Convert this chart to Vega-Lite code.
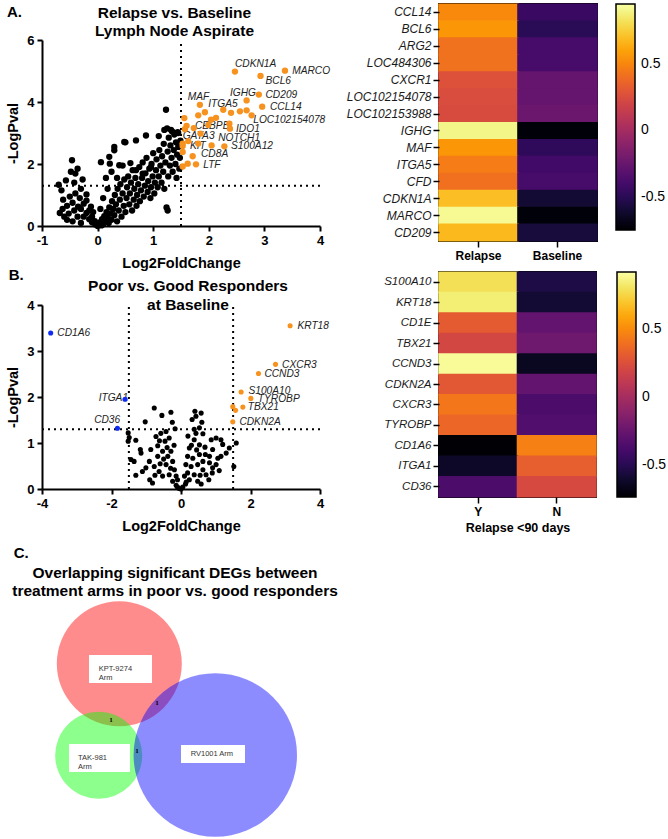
{
  "$schema": "https://vega.github.io/schema/vega-lite/v6.json",
  "background": "white",
  "padding": {"left": 5, "top": 2, "right": 0, "bottom": 0},
  "config": {
    "font": "Liberation Sans",
    "view": {"stroke": null},
    "axis": {"grid": false, "domainColor": "black", "tickColor": "black", "labelColor": "black", "titleColor": "black"},
    "title": {"color": "black", "font": "Liberation Sans"},
    "legend": {"labelColor": "black"}
  },
  "datasets": {
    "volcA": [
      {"lfc":-0.70,"logp":1.33,"g":"ns"},{"lfc":-0.65,"logp":1.15,"g":"ns"},{"lfc":-0.62,"logp":0.85,"g":"ns"},{"lfc":-0.63,"logp":0.55,"g":"ns"},{"lfc":-0.68,"logp":0.42,"g":"ns"},{"lfc":-0.57,"logp":1.47,"g":"ns"},{"lfc":-0.55,"logp":0.65,"g":"ns"},{"lfc":-0.50,"logp":0.95,"g":"ns"},{"lfc":-0.46,"logp":2.12,"g":"ns"},{"lfc":-0.48,"logp":1.75,"g":"ns"},{"lfc":-0.40,"logp":1.69,"g":"ns"},{"lfc":-0.36,"logp":1.85,"g":"ns"},{"lfc":-0.42,"logp":1.40,"g":"ns"},{"lfc":-0.30,"logp":1.20,"g":"ns"},{"lfc":-0.27,"logp":1.50,"g":"ns"},{"lfc":-0.20,"logp":1.02,"g":"ns"},{"lfc":-0.32,"logp":0.90,"g":"ns"},{"lfc":-0.45,"logp":0.75,"g":"ns"},{"lfc":-0.52,"logp":0.40,"g":"ns"},{"lfc":-0.42,"logp":0.50,"g":"ns"},{"lfc":-0.36,"logp":0.30,"g":"ns"},{"lfc":-0.30,"logp":0.55,"g":"ns"},{"lfc":-0.25,"logp":0.72,"g":"ns"},{"lfc":-0.20,"logp":0.42,"g":"ns"},{"lfc":-0.15,"logp":0.50,"g":"ns"},{"lfc":-0.10,"logp":0.30,"g":"ns"},{"lfc":-0.15,"logp":0.22,"g":"ns"},{"lfc":-0.10,"logp":0.12,"g":"ns"},{"lfc":-0.05,"logp":0.16,"g":"ns"},{"lfc":-0.04,"logp":0.05,"g":"ns"},{"lfc":-0.60,"logp":0.30,"g":"ns"},{"lfc":-0.55,"logp":0.20,"g":"ns"},{"lfc":-0.40,"logp":1.05,"g":"ns"},{"lfc":-0.35,"logp":0.62,"g":"ns"},{"lfc":-0.20,"logp":0.82,"g":"ns"},{"lfc":-0.12,"logp":0.62,"g":"ns"},{"lfc":-0.08,"logp":0.45,"g":"ns"},{"lfc":-0.25,"logp":0.30,"g":"ns"},{"lfc":-0.45,"logp":0.15,"g":"ns"},{"lfc":-0.30,"logp":0.10,"g":"ns"},
      {"lfc":0.00,"logp":0.00,"g":"ns"},{"lfc":0.02,"logp":0.06,"g":"ns"},{"lfc":0.05,"logp":0.12,"g":"ns"},{"lfc":0.07,"logp":0.02,"g":"ns"},{"lfc":0.08,"logp":0.22,"g":"ns"},{"lfc":0.10,"logp":0.06,"g":"ns"},{"lfc":0.12,"logp":0.32,"g":"ns"},{"lfc":0.14,"logp":0.15,"g":"ns"},{"lfc":0.16,"logp":0.45,"g":"ns"},{"lfc":0.18,"logp":0.28,"g":"ns"},{"lfc":0.20,"logp":0.10,"g":"ns"},{"lfc":0.21,"logp":0.60,"g":"ns"},{"lfc":0.23,"logp":0.40,"g":"ns"},{"lfc":0.25,"logp":0.20,"g":"ns"},{"lfc":0.26,"logp":0.80,"g":"ns"},{"lfc":0.28,"logp":0.55,"g":"ns"},{"lfc":0.30,"logp":0.35,"g":"ns"},{"lfc":0.31,"logp":1.00,"g":"ns"},{"lfc":0.33,"logp":0.70,"g":"ns"},{"lfc":0.35,"logp":0.15,"g":"ns"},{"lfc":0.36,"logp":1.20,"g":"ns"},{"lfc":0.38,"logp":0.50,"g":"ns"},{"lfc":0.40,"logp":0.85,"g":"ns"},{"lfc":0.41,"logp":1.35,"g":"ns"},{"lfc":0.43,"logp":0.30,"g":"ns"},{"lfc":0.45,"logp":1.05,"g":"ns"},{"lfc":0.47,"logp":0.65,"g":"ns"},{"lfc":0.48,"logp":1.50,"g":"ns"},{"lfc":0.50,"logp":0.45,"g":"ns"},{"lfc":0.52,"logp":0.90,"g":"ns"},{"lfc":0.53,"logp":1.25,"g":"ns"},{"lfc":0.55,"logp":1.60,"g":"ns"},{"lfc":0.57,"logp":0.70,"g":"ns"},{"lfc":0.58,"logp":1.05,"g":"ns"},{"lfc":0.60,"logp":1.40,"g":"ns"},{"lfc":0.62,"logp":0.50,"g":"ns"},{"lfc":0.63,"logp":1.80,"g":"ns"},{"lfc":0.65,"logp":0.85,"g":"ns"},{"lfc":0.66,"logp":1.20,"g":"ns"},{"lfc":0.68,"logp":1.55,"g":"ns"},{"lfc":0.70,"logp":0.65,"g":"ns"},{"lfc":0.71,"logp":1.00,"g":"ns"},{"lfc":0.73,"logp":1.35,"g":"ns"},{"lfc":0.75,"logp":1.90,"g":"ns"},{"lfc":0.76,"logp":0.80,"g":"ns"},{"lfc":0.78,"logp":1.15,"g":"ns"},{"lfc":0.80,"logp":1.55,"g":"ns"},{"lfc":0.81,"logp":2.05,"g":"ns"},{"lfc":0.83,"logp":0.95,"g":"ns"},{"lfc":0.85,"logp":1.30,"g":"ns"},{"lfc":0.86,"logp":1.70,"g":"ns"},{"lfc":0.88,"logp":2.20,"g":"ns"},{"lfc":0.90,"logp":1.10,"g":"ns"},{"lfc":0.91,"logp":1.45,"g":"ns"},{"lfc":0.93,"logp":1.85,"g":"ns"},{"lfc":0.95,"logp":0.90,"g":"ns"},{"lfc":0.96,"logp":1.25,"g":"ns"},{"lfc":0.97,"logp":2.00,"g":"ns"},{"lfc":0.99,"logp":1.60,"g":"ns"},{"lfc":1.00,"logp":2.35,"g":"ns"},{"lfc":1.02,"logp":1.05,"g":"ns"},{"lfc":1.03,"logp":1.40,"g":"ns"},{"lfc":1.05,"logp":1.80,"g":"ns"},{"lfc":1.06,"logp":2.15,"g":"ns"},{"lfc":1.08,"logp":1.25,"g":"ns"},{"lfc":1.10,"logp":1.60,"g":"ns"},{"lfc":1.11,"logp":2.45,"g":"ns"},{"lfc":1.13,"logp":1.95,"g":"ns"},{"lfc":1.15,"logp":1.40,"g":"ns"},{"lfc":1.16,"logp":2.25,"g":"ns"},{"lfc":1.18,"logp":1.75,"g":"ns"},{"lfc":1.19,"logp":2.65,"g":"ns"},{"lfc":1.20,"logp":1.20,"g":"ns"},{"lfc":1.22,"logp":2.05,"g":"ns"},{"lfc":1.23,"logp":3.75,"g":"ns"},{"lfc":1.24,"logp":0.60,"g":"ns"},{"lfc":1.26,"logp":0.50,"g":"ns"},{"lfc":1.25,"logp":3.15,"g":"ns"},{"lfc":1.26,"logp":2.40,"g":"ns"},{"lfc":1.27,"logp":1.60,"g":"ns"},{"lfc":1.28,"logp":2.85,"g":"ns"},{"lfc":1.30,"logp":1.95,"g":"ns"},{"lfc":1.31,"logp":2.60,"g":"ns"},{"lfc":1.33,"logp":2.20,"g":"ns"},{"lfc":1.34,"logp":3.05,"g":"ns"},{"lfc":1.35,"logp":1.75,"g":"ns"},{"lfc":1.37,"logp":2.45,"g":"ns"},{"lfc":1.38,"logp":2.95,"g":"ns"},{"lfc":1.40,"logp":2.00,"g":"ns"},{"lfc":1.41,"logp":2.70,"g":"ns"},{"lfc":1.42,"logp":1.55,"g":"ns"},{"lfc":1.43,"logp":2.30,"g":"ns"},{"lfc":1.45,"logp":2.55,"g":"ns"},{"lfc":1.45,"logp":3.00,"g":"ns"},{"lfc":1.47,"logp":1.85,"g":"ns"},{"lfc":1.48,"logp":2.20,"g":"ns"},{"lfc":1.49,"logp":2.75,"g":"ns"},
      {"lfc":0.30,"logp":2.55,"g":"ns"},{"lfc":0.69,"logp":2.76,"g":"ns"},{"lfc":0.48,"logp":2.71,"g":"ns"},{"lfc":0.21,"logp":2.23,"g":"ns"},{"lfc":0.30,"logp":2.44,"g":"ns"},{"lfc":0.06,"logp":2.06,"g":"ns"},{"lfc":0.22,"logp":2.01,"g":"ns"},{"lfc":0.39,"logp":1.96,"g":"ns"},{"lfc":0.59,"logp":2.03,"g":"ns"},{"lfc":0.81,"logp":1.69,"g":"ns"},{"lfc":0.96,"logp":1.90,"g":"ns"},{"lfc":0.69,"logp":1.80,"g":"ns"},{"lfc":0.87,"logp":2.92,"g":"ns"},{"lfc":0.50,"logp":2.70,"g":"ns"},{"lfc":0.45,"logp":1.95,"g":"ns"},{"lfc":0.15,"logp":1.55,"g":"ns"},{"lfc":0.25,"logp":1.75,"g":"ns"},{"lfc":0.35,"logp":1.55,"g":"ns"},{"lfc":0.10,"logp":0.90,"g":"ns"},{"lfc":0.18,"logp":1.20,"g":"ns"},{"lfc":0.05,"logp":0.55,"g":"ns"},{"lfc":1.10,"logp":2.90,"g":"ns"},{"lfc":1.20,"logp":3.10,"g":"ns"},{"lfc":1.32,"logp":3.10,"g":"ns"},{"lfc":1.44,"logp":3.03,"g":"ns"},
      {"gene":"CDKN1A","lfc":2.47,"logp":4.98,"g":"up"},{"gene":"MARCO","lfc":3.37,"logp":5.01,"g":"up"},{"gene":"BCL6","lfc":2.93,"logp":4.84,"g":"up"},{"gene":"CD209","lfc":2.90,"logp":4.24,"g":"up"},{"gene":"IGHG","lfc":2.68,"logp":4.05,"g":"up"},{"gene":"CCL14","lfc":2.96,"logp":3.85,"g":"up"},{"gene":"LOC102154078","lfc":2.77,"logp":3.57,"g":"up"},{"lfc":2.68,"logp":3.73,"g":"up"},{"lfc":2.56,"logp":3.70,"g":"up"},{"lfc":2.40,"logp":3.65,"g":"up"},{"lfc":2.26,"logp":3.75,"g":"up"},{"gene":"MAF","lfc":1.84,"logp":3.91,"g":"up"},{"gene":"ITGA5","lfc":1.93,"logp":3.67,"g":"up"},{"lfc":1.81,"logp":3.57,"g":"up"},{"lfc":2.13,"logp":3.49,"g":"up"},{"lfc":2.04,"logp":3.43,"g":"up"},{"lfc":1.56,"logp":3.48,"g":"up"},{"lfc":1.60,"logp":3.23,"g":"up"},{"lfc":1.57,"logp":3.12,"g":"up"},{"gene":"CEBPB","lfc":1.73,"logp":3.16,"g":"up"},{"lfc":1.99,"logp":3.26,"g":"up"},{"lfc":2.37,"logp":3.30,"g":"up"},{"gene":"IDO1","lfc":2.38,"logp":3.14,"g":"up"},{"gene":"GATA3","lfc":1.85,"logp":2.98,"g":"up"},{"gene":"KIT","lfc":1.53,"logp":2.66,"g":"up"},{"lfc":1.53,"logp":2.58,"g":"up"},{"gene":"NOTCH1","lfc":2.05,"logp":2.60,"g":"up"},{"gene":"S100A12","lfc":2.28,"logp":2.57,"g":"up"},{"lfc":1.81,"logp":2.66,"g":"up"},{"lfc":1.53,"logp":2.39,"g":"up"},{"gene":"CD8A","lfc":1.71,"logp":2.25,"g":"up"},{"gene":"LTF","lfc":1.77,"logp":1.99,"g":"up"},{"lfc":1.62,"logp":2.01,"g":"up"},{"lfc":1.53,"logp":1.92,"g":"up"},{"lfc":1.63,"logp":2.74,"g":"up"}
    ],
    "labA": [
      {"gene":"CDKN1A","lfc":2.47,"logp":5.22},{"gene":"MARCO","lfc":3.50,"logp":5.00},{"gene":"BCL6","lfc":3.02,"logp":4.68},{"gene":"CD209","lfc":3.02,"logp":4.24},{"gene":"IGHG","lfc":2.38,"logp":4.30},{"gene":"CCL14","lfc":3.10,"logp":3.84},{"gene":"LOC102154078","lfc":2.80,"logp":3.41},{"gene":"MAF","lfc":1.62,"logp":4.15},{"gene":"ITGA5","lfc":1.99,"logp":3.92},{"gene":"CEBPB","lfc":1.75,"logp":3.22},{"gene":"IDO1","lfc":2.49,"logp":3.14},{"gene":"GATA3","lfc":1.53,"logp":2.90},{"gene":"NOTCH1","lfc":2.17,"logp":2.84},{"gene":"KIT","lfc":1.66,"logp":2.58},{"gene":"S100A12","lfc":2.40,"logp":2.57},{"gene":"CD8A","lfc":1.86,"logp":2.31},{"gene":"LTF","lfc":1.90,"logp":1.98}
    ],
    "volcB": [
      {"lfc":-1.52,"logp":1.22,"g":"ns"},{"lfc":-1.49,"logp":1.12,"g":"ns"},{"lfc":-1.52,"logp":1.04,"g":"ns"},{"lfc":-1.30,"logp":1.06,"g":"ns"},{"lfc":-1.03,"logp":1.46,"g":"ns"},{"lfc":-1.44,"logp":0.64,"g":"ns"},{"lfc":-1.35,"logp":0.60,"g":"ns"},{"lfc":-1.15,"logp":0.78,"g":"ns"},{"lfc":-1.17,"logp":0.86,"g":"ns"},{"lfc":-1.11,"logp":0.38,"g":"ns"},{"lfc":-1.30,"logp":0.30,"g":"ns"},{"lfc":-0.82,"logp":0.13,"g":"ns"},{"lfc":-0.77,"logp":1.76,"g":"ns"},{"lfc":-0.29,"logp":1.67,"g":"ns"},{"lfc":-0.43,"logp":1.25,"g":"ns"},{"lfc":-0.17,"logp":1.31,"g":"ns"},{"lfc":-0.72,"logp":1.14,"g":"ns"},{"lfc":-0.62,"logp":1.05,"g":"ns"},{"lfc":-0.67,"logp":0.94,"g":"ns"},{"lfc":-0.91,"logp":0.60,"g":"ns"},{"lfc":-0.87,"logp":0.86,"g":"ns"},{"lfc":-1.01,"logp":0.46,"g":"ns"},{"lfc":-0.58,"logp":1.21,"g":"ns"},{"lfc":-0.53,"logp":0.82,"g":"ns"},{"lfc":-0.43,"logp":0.53,"g":"ns"},{"lfc":-0.34,"logp":0.31,"g":"ns"},{"lfc":-0.24,"logp":0.17,"g":"ns"},{"lfc":-0.14,"logp":0.08,"g":"ns"},{"lfc":-0.10,"logp":0.04,"g":"ns"},{"lfc":-0.05,"logp":0.01,"g":"ns"},{"lfc":0.00,"logp":0.00,"g":"ns"},{"lfc":-0.67,"logp":0.71,"g":"ns"},{"lfc":-0.77,"logp":0.49,"g":"ns"},{"lfc":-0.63,"logp":0.38,"g":"ns"},{"lfc":-0.53,"logp":0.28,"g":"ns"},{"lfc":-0.38,"logp":0.71,"g":"ns"},{"lfc":-0.29,"logp":0.82,"g":"ns"},{"lfc":-0.34,"logp":1.11,"g":"ns"},{"lfc":-0.46,"logp":1.04,"g":"ns"},{"lfc":-0.24,"logp":0.60,"g":"ns"},{"lfc":-0.19,"logp":0.42,"g":"ns"},{"lfc":-0.14,"logp":0.28,"g":"ns"},
      {"lfc":0.40,"logp":1.69,"g":"ns"},{"lfc":0.58,"logp":1.65,"g":"ns"},{"lfc":0.32,"logp":1.51,"g":"ns"},{"lfc":0.38,"logp":1.30,"g":"ns"},{"lfc":0.63,"logp":1.20,"g":"ns"},{"lfc":0.43,"logp":1.21,"g":"ns"},{"lfc":0.87,"logp":1.07,"g":"ns"},{"lfc":1.01,"logp":1.11,"g":"ns"},{"lfc":1.15,"logp":1.07,"g":"ns"},{"lfc":0.69,"logp":0.91,"g":"ns"},{"lfc":0.91,"logp":0.86,"g":"ns"},{"lfc":1.20,"logp":0.97,"g":"ns"},{"lfc":1.39,"logp":0.89,"g":"ns"},{"lfc":1.59,"logp":1.00,"g":"ns"},{"lfc":1.52,"logp":0.49,"g":"ns"},{"lfc":1.15,"logp":0.71,"g":"ns"},{"lfc":1.06,"logp":0.67,"g":"ns"},{"lfc":1.30,"logp":0.78,"g":"ns"},{"lfc":0.82,"logp":0.57,"g":"ns"},{"lfc":0.58,"logp":0.11,"g":"ns"},{"lfc":0.24,"logp":0.89,"g":"ns"},{"lfc":0.34,"logp":0.67,"g":"ns"},{"lfc":0.48,"logp":0.53,"g":"ns"},{"lfc":0.63,"logp":0.42,"g":"ns"},{"lfc":0.72,"logp":0.31,"g":"ns"},{"lfc":0.38,"logp":0.31,"g":"ns"},{"lfc":0.24,"logp":0.20,"g":"ns"},{"lfc":0.13,"logp":0.11,"g":"ns"},{"lfc":0.05,"logp":0.04,"g":"ns"},{"lfc":0.29,"logp":0.49,"g":"ns"},{"lfc":0.19,"logp":0.35,"g":"ns"},{"lfc":0.53,"logp":0.75,"g":"ns"},{"lfc":0.63,"logp":0.60,"g":"ns"},{"lfc":0.82,"logp":0.71,"g":"ns"},{"lfc":0.91,"logp":0.46,"g":"ns"},{"lfc":0.14,"logp":0.53,"g":"ns"},{"lfc":0.10,"logp":0.28,"g":"ns"},{"lfc":0.38,"logp":1.07,"g":"ns"},{"lfc":0.53,"logp":0.96,"g":"ns"},{"lfc":0.19,"logp":0.71,"g":"ns"},{"lfc":1.01,"logp":0.53,"g":"ns"},{"lfc":0.48,"logp":0.17,"g":"ns"},{"lfc":0.43,"logp":1.58,"g":"ns"},{"lfc":0.53,"logp":1.33,"g":"ns"},
      {"lfc":-0.40,"logp":0.90,"g":"ns"},{"lfc":-0.50,"logp":0.65,"g":"ns"},{"lfc":-0.20,"logp":0.95,"g":"ns"},{"lfc":-0.30,"logp":0.45,"g":"ns"},{"lfc":0.30,"logp":0.95,"g":"ns"},{"lfc":0.45,"logp":0.85,"g":"ns"},{"lfc":0.70,"logp":0.75,"g":"ns"},{"lfc":0.55,"logp":0.30,"g":"ns"},{"lfc":0.15,"logp":0.15,"g":"ns"},{"lfc":-0.10,"logp":0.20,"g":"ns"},{"lfc":-0.60,"logp":0.55,"g":"ns"},{"lfc":-0.75,"logp":0.30,"g":"ns"},{"lfc":-0.90,"logp":0.20,"g":"ns"},{"lfc":0.80,"logp":0.20,"g":"ns"},{"lfc":0.90,"logp":0.35,"g":"ns"},{"lfc":1.10,"logp":0.40,"g":"ns"},{"lfc":-0.25,"logp":1.45,"g":"ns"},{"lfc":-0.55,"logp":1.60,"g":"ns"},{"lfc":0.20,"logp":1.15,"g":"ns"},{"lfc":0.60,"logp":1.45,"g":"ns"},
      {"gene":"CD1A6","lfc":-3.75,"logp":3.39,"g":"down"},{"gene":"ITGA1","lfc":-1.61,"logp":1.95,"g":"down"},{"gene":"CD36","lfc":-1.83,"logp":1.32,"g":"down"},
      {"gene":"KRT18","lfc":3.14,"logp":3.55,"g":"up"},{"gene":"CXCR3","lfc":2.72,"logp":2.71,"g":"up"},{"gene":"CCND3","lfc":2.23,"logp":2.51,"g":"up"},{"gene":"S100A10","lfc":1.73,"logp":2.11,"g":"up"},{"gene":"TYROBP","lfc":2.01,"logp":1.97,"g":"up"},{"gene":"TBX21","lfc":1.78,"logp":1.78,"g":"up"},{"lfc":1.49,"logp":1.79,"g":"up"},{"lfc":1.57,"logp":1.71,"g":"up"},{"gene":"CDKN2A","lfc":1.49,"logp":1.46,"g":"up"}
    ],
    "labB": [
      {"gene":"CD1A6","lfc":-3.56,"logp":3.39},{"gene":"ITGA1","lfc":-2.37,"logp":1.97},{"gene":"CD36","lfc":-2.50,"logp":1.51},{"gene":"KRT18","lfc":3.35,"logp":3.54},{"gene":"CXCR3","lfc":2.91,"logp":2.70},{"gene":"CCND3","lfc":2.40,"logp":2.50},{"gene":"S100A10","lfc":1.94,"logp":2.13},{"gene":"TYROBP","lfc":2.21,"logp":1.96},{"gene":"TBX21","lfc":1.92,"logp":1.79},{"gene":"CDKN2A","lfc":1.68,"logp":1.45}
    ],
    "heatA": [
      {"gene":"CCL14","cond":"Relapse","v":0.51},{"gene":"CCL14","cond":"Baseline","v":-0.44},
      {"gene":"BCL6","cond":"Relapse","v":0.56},{"gene":"BCL6","cond":"Baseline","v":-0.50},
      {"gene":"ARG2","cond":"Relapse","v":0.42},{"gene":"ARG2","cond":"Baseline","v":-0.39},
      {"gene":"LOC484306","cond":"Relapse","v":0.42},{"gene":"LOC484306","cond":"Baseline","v":-0.39},
      {"gene":"CXCR1","cond":"Relapse","v":0.27},{"gene":"CXCR1","cond":"Baseline","v":-0.26},
      {"gene":"LOC102154078","cond":"Relapse","v":0.25},{"gene":"LOC102154078","cond":"Baseline","v":-0.26},
      {"gene":"LOC102153988","cond":"Relapse","v":0.24},{"gene":"LOC102153988","cond":"Baseline","v":-0.24},
      {"gene":"IGHG","cond":"Relapse","v":0.90},{"gene":"IGHG","cond":"Baseline","v":-0.73},
      {"gene":"MAF","cond":"Relapse","v":0.56},{"gene":"MAF","cond":"Baseline","v":-0.48},
      {"gene":"ITGA5","cond":"Relapse","v":0.46},{"gene":"ITGA5","cond":"Baseline","v":-0.41},
      {"gene":"CFD","cond":"Relapse","v":0.41},{"gene":"CFD","cond":"Baseline","v":-0.39},
      {"gene":"CDKN1A","cond":"Relapse","v":0.70},{"gene":"CDKN1A","cond":"Baseline","v":-0.60},
      {"gene":"MARCO","cond":"Relapse","v":0.92},{"gene":"MARCO","cond":"Baseline","v":-0.73},
      {"gene":"CD209","cond":"Relapse","v":0.68},{"gene":"CD209","cond":"Baseline","v":-0.58}
    ],
    "heatB": [
      {"gene":"S100A10","cond":"Y","v":0.79},{"gene":"S100A10","cond":"N","v":-0.54},
      {"gene":"KRT18","cond":"Y","v":0.84},{"gene":"KRT18","cond":"N","v":-0.59},
      {"gene":"CD1E","cond":"Y","v":0.31},{"gene":"CD1E","cond":"N","v":-0.27},
      {"gene":"TBX21","cond":"Y","v":0.21},{"gene":"TBX21","cond":"N","v":-0.22},
      {"gene":"CCND3","cond":"Y","v":0.90},{"gene":"CCND3","cond":"N","v":-0.64},
      {"gene":"CDKN2A","cond":"Y","v":0.29},{"gene":"CDKN2A","cond":"N","v":-0.27},
      {"gene":"CXCR3","cond":"Y","v":0.42},{"gene":"CXCR3","cond":"N","v":-0.37},
      {"gene":"TYROBP","cond":"Y","v":0.36},{"gene":"TYROBP","cond":"N","v":-0.34},
      {"gene":"CD1A6","cond":"Y","v":-0.73},{"gene":"CD1A6","cond":"N","v":0.46},
      {"gene":"ITGA1","cond":"Y","v":-0.62},{"gene":"ITGA1","cond":"N","v":0.32},
      {"gene":"CD36","cond":"Y","v":-0.37},{"gene":"CD36","cond":"N","v":0.22}
    ],
    "vennSets": [
      {"arm":"KPT-9274","x":3.865,"y":9.165,"area":30.68},
      {"arm":"TAK-981","x":2.835,"y":4.585,"area":14.86},
      {"arm":"RV1001","x":8.665,"y":4.6,"area":52.42}
    ],
    "vennBoxes": [
      {"label":"KPT-9274\nArm","x":2.35,"x2":5.5,"y":9.6,"y2":8.2,"tx":2.835,"ty":8.9},
      {"label":"TAK-981\nArm","x":1.35,"x2":4.4,"y":5.15,"y2":3.75,"tx":1.8,"ty":4.475},
      {"label":"RV1001 Arm","x":6.95,"x2":10.15,"y":5.1,"y2":4.2,"tx":7.435,"ty":4.65}
    ],
    "vennCounts": [
      {"pair":"KPT-9274 & RV1001","n":1,"x":5.75,"y":7.215},
      {"pair":"KPT-9274 & TAK-981","n":1,"x":3.45,"y":6.365},
      {"pair":"TAK-981 & RV1001","n":1,"x":4.75,"y":4.8}
    ]
  },
  "hconcat": [
    {
      "vconcat": [
        {
          "vconcat": [
            {
              "vconcat": [
                {
                  "width": 278,
                  "height": 36,
                  "encoding": {
                    "x": {"field": "x", "type": "quantitative", "scale": {"domain": [-1, 4], "nice": false, "zero": false}, "axis": null},
                    "y": {"field": "y", "type": "quantitative", "scale": {"domain": [0, 1], "nice": false}, "axis": null}
                  },
                  "layer": [
                    {"data": {"values": [{"t": "A.", "x": -1.63, "y": 0.986}]}, "mark": {"type": "text", "align": "left", "baseline": "top", "fontSize": 15, "fontWeight": "bold", "color": "black"}, "encoding": {"text": {"field": "t"}}},
                    {"data": {"values": [{"t": "Relapse vs. Baseline", "x": 1.383, "y": 0.75}, {"t": "Lymph Node Aspirate", "x": 1.383, "y": 0.25}]}, "mark": {"type": "text", "align": "center", "baseline": "middle", "fontSize": 15.5, "fontWeight": "bold", "color": "black"}, "encoding": {"text": {"field": "t"}}}
                  ]
                },
                {
                  "width": 278,
                  "height": 186,
                  "encoding": {
                    "x": {"field": "lfc", "type": "quantitative", "scale": {"domain": [-1, 4], "nice": false, "zero": false},
                      "axis": {"title": "Log2FoldChange", "values": [-1, 0, 1, 2, 3, 4], "labelExpr": "datum.value < 0 ? '-' + abs(datum.value) : '' + datum.value", "labelFontSize": 13, "labelFontWeight": "bold", "titleFontSize": 14.5, "titleFontWeight": "bold", "domainWidth": 2, "tickWidth": 2, "tickSize": 5, "labelPadding": 3, "titlePadding": 9, "labelFlush": false}},
                    "y": {"field": "logp", "type": "quantitative", "scale": {"domain": [0, 6], "nice": false},
                      "axis": {"title": "-LogPval", "values": [0, 2, 4, 6], "labelFontSize": 13, "labelFontWeight": "bold", "titleFontSize": 14.5, "titleFontWeight": "bold", "domainWidth": 2, "tickWidth": 2, "tickSize": 5, "labelPadding": 3, "titlePadding": 6, "labelFlush": false}}
                  },
                  "layer": [
                    {"data": {"values": [{"lfc": 1.5, "logp": 0, "logp2": 6}]}, "mark": {"type": "rule", "strokeDash": [2, 4], "strokeWidth": 2, "color": "black"}, "encoding": {"y2": {"field": "logp2"}}},
                    {"data": {"values": [{"lfc": -1, "lfc2": 4, "logp": 1.3}]}, "mark": {"type": "rule", "strokeDash": [2, 4], "strokeWidth": 2, "color": "black"}, "encoding": {"x2": {"field": "lfc2"}}},
                    {"data": {"name": "labA"}, "mark": {"type": "text", "align": "left", "baseline": "middle", "fontStyle": "italic", "fontSize": 10.2, "color": "#222"}, "encoding": {"text": {"field": "gene"}}},
                    {"data": {"name": "volcA"}, "mark": {"type": "circle", "size": 40, "opacity": 1}, "encoding": {"color": {"field": "g", "type": "nominal", "scale": {"domain": ["ns", "up"], "range": ["black", "#F7921E"]}, "legend": null}}}
                  ]
                }
              ],
              "spacing": -6,
              "align": "none",
              "bounds": "full",
              "resolve": {"scale": {"color": "independent", "x": "independent", "y": "independent"}}
            },
            {
              "title": {"text": "B.", "anchor": "start", "frame": "bounds", "offset": -4, "dx": 3, "fontSize": 15, "fontWeight": "bold"},
              "vconcat": [
                {
                  "width": 278,
                  "height": 184,
                  "title": {"text": ["Poor vs. Good Responders", "at Baseline"], "anchor": "middle", "frame": "group", "fontSize": 15.5, "fontWeight": "bold", "lineHeight": 19, "offset": -14, "dx": 7},
                  "encoding": {
                    "x": {"field": "lfc", "type": "quantitative", "scale": {"domain": [-4, 4], "nice": false},
                      "axis": {"title": "Log2FoldChange", "values": [-4, -2, 0, 2, 4], "labelExpr": "datum.value < 0 ? '-' + abs(datum.value) : '' + datum.value", "labelFontSize": 13, "labelFontWeight": "bold", "titleFontSize": 14.5, "titleFontWeight": "bold", "domainWidth": 2, "tickWidth": 2, "tickSize": 5, "labelPadding": 3, "titlePadding": 9, "labelFlush": false}},
                    "y": {"field": "logp", "type": "quantitative", "scale": {"domain": [0, 4], "nice": false},
                      "axis": {"title": "-LogPval", "values": [0, 1, 2, 3, 4], "labelFontSize": 13, "labelFontWeight": "bold", "titleFontSize": 14.5, "titleFontWeight": "bold", "domainWidth": 2, "tickWidth": 2, "tickSize": 5, "labelPadding": 3, "titlePadding": 6, "labelFlush": false}}
                  },
                  "layer": [
                    {"data": {"values": [{"lfc": -1.5, "logp": 0, "logp2": 4}, {"lfc": 1.5, "logp": 0, "logp2": 4}]}, "mark": {"type": "rule", "strokeDash": [2, 4], "strokeWidth": 2, "color": "black"}, "encoding": {"y2": {"field": "logp2"}}},
                    {"data": {"values": [{"lfc": -4, "lfc2": 4, "logp": 1.3}]}, "mark": {"type": "rule", "strokeDash": [2, 4], "strokeWidth": 2, "color": "black"}, "encoding": {"x2": {"field": "lfc2"}}},
                    {"data": {"name": "labB"}, "mark": {"type": "text", "align": "left", "baseline": "middle", "fontStyle": "italic", "fontSize": 10.2, "color": "#222"}, "encoding": {"text": {"field": "gene"}}},
                    {"data": {"name": "volcB"}, "mark": {"type": "circle", "size": 26, "opacity": 1}, "encoding": {"color": {"field": "g", "type": "nominal", "scale": {"domain": ["ns", "up", "down"], "range": ["black", "#F7921E", "#0D2BF2"]}, "legend": null}}}
                  ]
                }
              ]
            }
          ],
          "spacing": -3,
          "align": "none",
          "bounds": "full",
          "resolve": {"scale": {"color": "independent", "x": "independent", "y": "independent"}}
        },
        {
          "title": {"text": "C.", "anchor": "start", "frame": "bounds", "offset": 5, "dx": 1.5, "fontSize": 15, "fontWeight": "bold"},
          "vconcat": [
            {
              "width": 266,
              "height": 240,
              "title": {"text": ["Overlapping significant DEGs between", "treatment arms in poor vs. good responders"], "anchor": "middle", "frame": "group", "fontSize": 15.5, "fontWeight": "bold", "lineHeight": 17.5, "offset": 2},
              "encoding": {
                "x": {"field": "x", "type": "quantitative", "scale": {"domain": [0, 13.3], "nice": false, "zero": false}, "axis": null},
                "y": {"field": "y", "type": "quantitative", "scale": {"domain": [0, 12], "nice": false, "zero": false}, "axis": null}
              },
              "layer": [
                {"data": {"name": "vennSets"}, "mark": {"type": "circle", "opacity": 0.45}, "encoding": {
                  "size": {"field": "area", "type": "quantitative", "scale": {"type": "linear", "domain": [0, 60], "range": [0, 30558], "zero": true, "nice": false}, "legend": null},
                  "color": {"field": "arm", "type": "nominal", "scale": {"domain": ["KPT-9274", "TAK-981", "RV1001"], "range": ["#FF0000", "#00FF00", "#0000FF"]}, "legend": null}}},
                {"data": {"name": "vennBoxes"}, "mark": {"type": "rect", "fill": "white"}, "encoding": {"x2": {"field": "x2"}, "y2": {"field": "y2"}}},
                {"data": {"name": "vennBoxes"}, "mark": {"type": "text", "align": "left", "baseline": "middle", "fontSize": 7.5, "color": "#333", "lineBreak": "\n", "lineHeight": 9.3}, "encoding": {"x": {"field": "tx", "type": "quantitative"}, "y": {"field": "ty", "type": "quantitative"}, "text": {"field": "label"}}},
                {"data": {"name": "vennCounts"}, "mark": {"type": "text", "align": "center", "baseline": "middle", "fontSize": 7, "fontWeight": "bold", "font": "Liberation Serif", "color": "black"}, "encoding": {"text": {"field": "n", "type": "quantitative"}}}
              ]
            }
          ],
          "resolve": {"scale": {"color": "independent", "size": "independent"}}
        }
      ],
      "spacing": 13,
      "align": "none",
      "bounds": "full",
      "resolve": {"scale": {"color": "independent", "size": "independent", "x": "independent", "y": "independent"}}
    },
    {
      "vconcat": [
        {
          "width": 158,
          "height": 237,
          "view": {"stroke": "black", "strokeWidth": 2},
          "data": {"name": "heatA"},
          "mark": {"type": "rect", "height": {"band": 1.06}, "width": {"band": 1.02}},
          "encoding": {
            "x": {"field": "cond", "type": "nominal", "sort": ["Relapse", "Baseline"], "axis": {"title": null, "labelAngle": 0, "labelFontSize": 12, "labelFontWeight": "bold", "tickSize": 6, "tickWidth": 1.5, "domain": false, "labelPadding": 3}},
            "y": {"field": "gene", "type": "nominal", "sort": ["CCL14", "BCL6", "ARG2", "LOC484306", "CXCR1", "LOC102154078", "LOC102153988", "IGHG", "MAF", "ITGA5", "CFD", "CDKN1A", "MARCO", "CD209"], "axis": {"title": null, "labelFontSize": 12, "labelFontStyle": "italic", "labelColor": "#1a1a1a", "tickSize": 6, "tickWidth": 1.5, "domain": false, "labelPadding": 2}},
            "color": {"field": "v", "type": "quantitative", "scale": {"scheme": "inferno", "domain": [-0.75, 0.95], "clamp": true},
              "legend": {"type": "gradient", "title": null, "values": [-0.5, 0, 0.5], "labelExpr": "datum.value < 0 ? '-' + abs(datum.value) : '' + datum.value", "gradientLength": 226, "gradientThickness": 19, "gradientStrokeColor": "black", "gradientStrokeWidth": 1.5, "labelFontSize": 14, "labelOffset": 6, "offset": 19}}
          }
        },
        {
          "width": 157,
          "height": 225,
          "view": {"stroke": "black", "strokeWidth": 2},
          "data": {"name": "heatB"},
          "mark": {"type": "rect", "height": {"band": 1.06}, "width": {"band": 1.02}},
          "encoding": {
            "x": {"field": "cond", "type": "nominal", "sort": ["Y", "N"], "axis": {"title": "Relapse <90 days", "titleFontSize": 12.5, "titleFontWeight": "bold", "titlePadding": 4, "labelAngle": 0, "labelFontSize": 12, "labelFontWeight": "bold", "tickSize": 6, "tickWidth": 1.5, "domain": false, "labelPadding": 3}},
            "y": {"field": "gene", "type": "nominal", "sort": ["S100A10", "KRT18", "CD1E", "TBX21", "CCND3", "CDKN2A", "CXCR3", "TYROBP", "CD1A6", "ITGA1", "CD36"], "axis": {"title": null, "labelFontSize": 11.5, "labelFontStyle": "italic", "labelColor": "#1a1a1a", "tickSize": 6, "tickWidth": 1.5, "domain": false, "labelPadding": 2}},
            "color": {"field": "v", "type": "quantitative", "scale": {"scheme": "inferno", "domain": [-0.735, 0.92], "clamp": true},
              "legend": {"type": "gradient", "title": null, "values": [-0.5, 0, 0.5], "labelExpr": "datum.value < 0 ? '-' + abs(datum.value) : '' + datum.value", "gradientLength": 225, "gradientThickness": 19, "gradientStrokeColor": "black", "gradientStrokeWidth": 1.5, "labelFontSize": 14, "labelOffset": 6, "offset": 21}}
          }
        }
      ],
      "spacing": 8,
      "align": "none",
      "bounds": "full",
      "resolve": {"scale": {"color": "independent", "x": "independent", "y": "independent"}, "legend": {"color": "independent"}}
    }
  ],
  "spacing": 7,
  "align": "none",
  "bounds": "full",
  "resolve": {"scale": {"color": "independent", "size": "independent", "x": "independent", "y": "independent"}, "legend": {"color": "independent"}}
}
